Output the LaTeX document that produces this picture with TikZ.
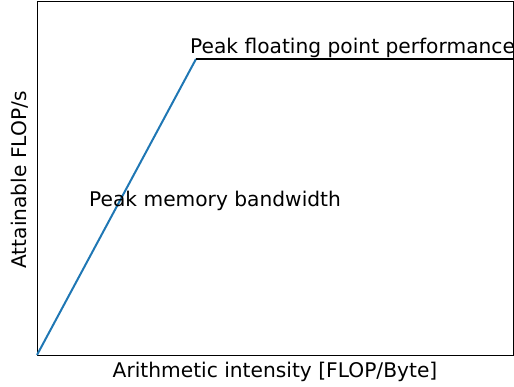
\documentclass[tikz,border=0pt]{standalone}
\usepackage{fontspec}
\setmainfont{DejaVu Sans}
\usepackage{amsmath}

\definecolor{mplblue}{HTML}{1F77B4}

\begin{document}
\begin{tikzpicture}[x=1pt,y=-1pt,
	lbl/.style={inner sep=0pt,font=\fontsize{20.2}{24}\selectfont}]
				\useasboundingbox (0,0) rectangle (514,387);
				\coordinate (O) at (37,355);
				\coordinate (K) at (196,59);
				\coordinate (R) at (514,59);
				\draw [line width=0.9pt] (37,1) rectangle (513.5,355);
				\draw [mplblue,line width=2pt] (O)--(K);
				\draw [black,line width=2pt] (K)--(R);

				\node [lbl,anchor=base west] (peakfp) at (190,54) {Peak floating point performance};
				\node [lbl,anchor=base west] (peakbw) at (89,207) {Peak memory bandwidth};
				\node [lbl,anchor=base] (xlab) at (275,377.5) {Arithmetic intensity [FLOP/Byte]};
				\node [lbl,anchor=base,rotate=90] (ylab) at (27,180) {Attainable FLOP/s};

			\end{tikzpicture}
\end{document}
